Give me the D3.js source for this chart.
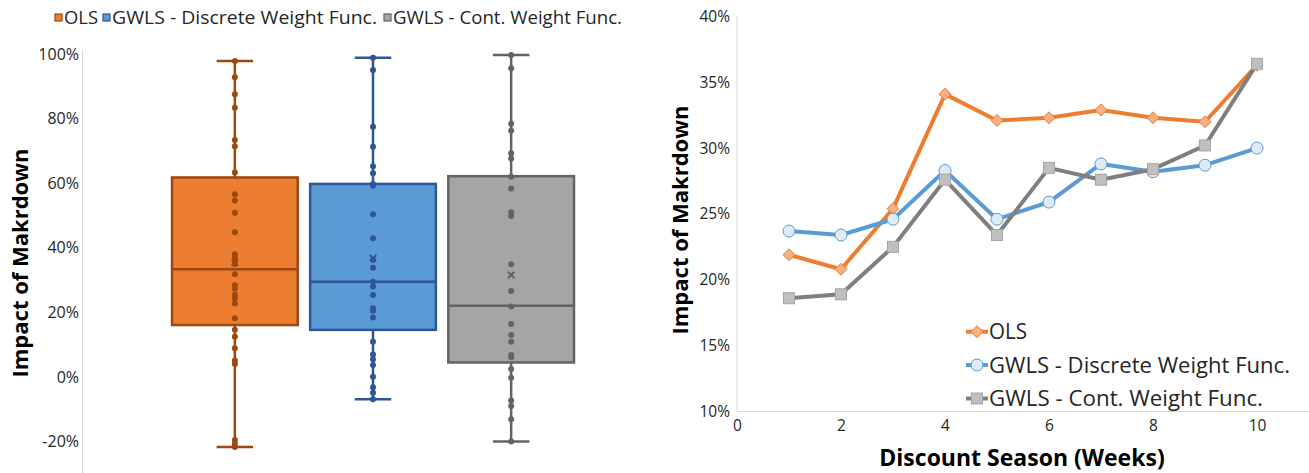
<!DOCTYPE html>
<html><head><meta charset="utf-8">
<script src="https://cdn.jsdelivr.net/npm/d3@7"></script>
<style>
html,body{margin:0;padding:0;background:#fff;}
svg{display:block;font-family:"Open Sans",sans-serif;}
</style></head>
<body>
<svg id="c" width="1309" height="473"></svg>
<script>
// ---------------- DATA ----------------
const seriesNames = ["OLS", "GWLS - Discrete Weight Func.", "GWLS - Cont. Weight Func."];

// Box plot stats (percent)
const boxMin    = [-21.7, -6.9, -20.0];
const boxQ1     = [16.1, 14.6, 4.5];
const boxMedian = [33.4, 29.5, 22.1];
const boxQ3     = [61.8, 59.8, 62.2];
const boxMax    = [97.9, 98.9, 99.7];
const boxMean   = [35.5, 36.8, 31.6];

// Individual observations (percent)
const olsPoints = [97.9, 92.8, 87.6, 83.4, 73.4, 71.5, 63.3, 56.6, 54.7, 50.9, 44.8, 38.0, 36.8, 35.9, 35.0,
  31.8, 28.4, 27.3, 25.5, 24.4, 22.8, 18.2, 14.6, 12.5, 8.9, 5.1, 4.0, -19.5, -20.7, -21.7];
const discPoints = [98.9, 95.1, 77.5, 71.3, 65.3, 63.1, 59.8, 59.2, 50.4, 43.0, 36.2, 33.8, 29.5, 28.0, 25.4,
  21.3, 20.5, 18.4, 10.9, 7.0, 5.5, 3.7, 0.1, -3.2, -4.9, -6.9];
const contPoints = [99.7, 95.6, 78.4, 76.3, 69.3, 67.7, 62.0, 58.4, 51.0, 49.9, 34.9, 26.6, 21.8, 16.4, 13.0,
  10.9, 6.8, 6.1, 2.5, -0.2, -7.3, -9.0, -13.1, -20.0];

const boxTicks = [-20, 0, 20, 40, 60, 80, 100];

// Line chart: Discount season (weeks) vs impact (percent)
const weeks = [1, 2, 3, 4, 5, 6, 7, 8, 9, 10];
const olsLine  = [21.9, 20.8, 25.4, 34.1, 32.1, 32.3, 32.9, 32.3, 32.0, 36.3];
const discLine = [23.7, 23.4, 24.6, 28.3, 24.6, 25.9, 28.8, 28.2, 28.7, 30.0];
const contLine = [18.6, 18.9, 22.5, 27.6, 23.4, 28.5, 27.6, 28.4, 30.2, 36.4];
const lineXTicks = [0, 2, 4, 6, 8, 10];
const lineYTicks = [10, 15, 20, 25, 30, 35, 40];

// ---------------- STYLE ----------------
const fills   = ["#ED7D31", "#5B9BD5", "#A5A5A5"];
const strokes = ["#9E480E", "#2F5597", "#636363"];
const lineCols = ["#ED7D31", "#5B9BD5", "#7F7F7F"];
const markFill = ["#F4B183", "#DEEBF7", "#BFBFBF"];
const markStroke = ["#ED7D31", "#5B9BD5", "#A5A5A5"];
const textCol = "#262626";
const axisCol = "#D9D9D9";

const svg = d3.select("#c");

// ================= LEFT: BOX PLOT =================
const yB = d3.scaleLinear().domain([-20, 100]).range([441.6, 54.1]);
const xB = d3.scaleBand().domain(seriesNames).range([172, 574]).paddingInner(0.09).paddingOuter(0);
const allPoints = [olsPoints, discPoints, contPoints];

svg.append("line").attr("x1", 82.5).attr("x2", 82.5).attr("y1", 50).attr("y2", 473)
  .attr("stroke", axisCol).attr("stroke-width", 1);

const yAxB = d3.axisLeft(yB).tickValues(boxTicks).tickSize(0).tickPadding(0).tickFormat(d => d + "%");
const gyB = svg.append("g").attr("transform", "translate(79,0)").call(yAxB);
gyB.select(".domain").remove();
gyB.selectAll("text").attr("fill", textCol).style("font-size", "16px").style("font-family", "Open Sans");

svg.append("text").attr("transform", "translate(28,263) rotate(-90)")
  .attr("text-anchor", "middle").attr("fill", "#000")
  .style("font-size", "22px").style("font-weight", "bold").text("Impact of Makrdown");

seriesNames.forEach((s, i) => {
  const g = svg.append("g");
  const x0 = xB(s), w = xB.bandwidth(), cx = x0 + w / 2, capW = w * 0.29;
  g.append("line").attr("x1", cx).attr("x2", cx).attr("y1", yB(boxMax[i])).attr("y2", yB(boxMin[i]))
    .attr("stroke", strokes[i]).attr("stroke-width", 2.5);
  g.append("line").attr("x1", cx - capW / 2).attr("x2", cx + capW / 2).attr("y1", yB(boxMax[i])).attr("y2", yB(boxMax[i]))
    .attr("stroke", strokes[i]).attr("stroke-width", 2.5);
  g.append("line").attr("x1", cx - capW / 2).attr("x2", cx + capW / 2).attr("y1", yB(boxMin[i])).attr("y2", yB(boxMin[i]))
    .attr("stroke", strokes[i]).attr("stroke-width", 2.5);
  g.append("rect").attr("x", x0).attr("width", w).attr("y", yB(boxQ3[i])).attr("height", yB(boxQ1[i]) - yB(boxQ3[i]))
    .attr("fill", fills[i]).attr("stroke", strokes[i]).attr("stroke-width", 2.5);
  g.append("line").attr("x1", x0).attr("x2", x0 + w).attr("y1", yB(boxMedian[i])).attr("y2", yB(boxMedian[i]))
    .attr("stroke", strokes[i]).attr("stroke-width", 2.5);
  g.selectAll("circle").data(allPoints[i]).join("circle")
    .attr("cx", cx).attr("cy", d => yB(d)).attr("r", 3).attr("fill", strokes[i]);
  const my = yB(boxMean[i]), m = 3.2;
  g.append("path").attr("d", `M${cx - m},${my - m}L${cx + m},${my + m}M${cx - m},${my + m}L${cx + m},${my - m}`)
    .attr("stroke", strokes[i]).attr("stroke-width", 2);
});

// top legend
const legTop = svg.append("g");
const legX = [55, 103, 384];
const legTopLen = [34, 265, 229];
seriesNames.forEach((s, i) => {
  legTop.append("rect").attr("x", legX[i]).attr("y", 14).attr("width", 7).attr("height", 7)
    .attr("fill", fills[i]).attr("stroke", strokes[i]).attr("stroke-width", 1.2);
  legTop.append("text").attr("x", legX[i] + 9).attr("y", 24).attr("fill", textCol)
    .attr("textLength", legTopLen[i]).attr("lengthAdjust", "spacingAndGlyphs")
    .style("font-size", "18px").text(s);
});

// ================= RIGHT: LINE CHART =================
const xL = d3.scaleLinear().domain([0, 12]).range([737, 1361]);
const yL = d3.scaleLinear().domain([10, 40]).range([411.5, 16.4]);

svg.append("line").attr("x1", xL(0)).attr("x2", 1309).attr("y1", yL(10)).attr("y2", yL(10))
  .attr("stroke", axisCol);
svg.append("line").attr("x1", xL(0)).attr("x2", xL(0)).attr("y1", yL(40)).attr("y2", yL(10))
  .attr("stroke", axisCol);

const gyL = svg.append("g").attr("transform", `translate(${xL(0) - 7},0)`)
  .call(d3.axisLeft(yL).tickValues(lineYTicks).tickSize(0).tickPadding(0).tickFormat(d => d + "%"));
gyL.select(".domain").remove();
gyL.selectAll("text").attr("fill", textCol).style("font-size", "15.5px").style("font-family", "Open Sans");

const gxL = svg.append("g").attr("transform", `translate(0,${yL(10) + 8})`)
  .call(d3.axisBottom(xL).tickValues(lineXTicks).tickSize(0).tickPadding(0));
gxL.select(".domain").remove();
gxL.selectAll("text").attr("fill", textCol).style("font-size", "15.5px").style("font-family", "Open Sans");

svg.append("text").attr("x", 1022).attr("y", 466).attr("text-anchor", "middle").attr("fill", "#000")
  .style("font-size", "23px").style("font-weight", "bold").text("Discount Season (Weeks)");
svg.append("text").attr("transform", "translate(688,220) rotate(-90)").attr("text-anchor", "middle").attr("fill", "#000")
  .style("font-size", "22px").style("font-weight", "bold").text("Impact of Makrdown");

const lineData = [olsLine, discLine, contLine];
const lineGen = d3.line().x((d, j) => xL(weeks[j])).y(d => yL(d));

function marker(g, type, i, x, y) {
  if (type === 0) {
    const s = 6;
    g.append("path").attr("d", `M${x},${y - s}L${x + s},${y}L${x},${y + s}L${x - s},${y}Z`)
      .attr("fill", markFill[i]).attr("stroke", markStroke[i]).attr("stroke-width", 1);
  } else if (type === 1) {
    g.append("circle").attr("cx", x).attr("cy", y).attr("r", 6)
      .attr("fill", markFill[i]).attr("stroke", markStroke[i]).attr("stroke-width", 1);
  } else {
    const s = 5.5;
    g.append("rect").attr("x", x - s).attr("y", y - s).attr("width", 2 * s).attr("height", 2 * s)
      .attr("fill", markFill[i]).attr("stroke", markStroke[i]).attr("stroke-width", 1);
  }
}

lineData.forEach((arr, i) => {
  const g = svg.append("g");
  g.append("path").datum(arr).attr("d", lineGen).attr("fill", "none")
    .attr("stroke", lineCols[i]).attr("stroke-width", 4).attr("stroke-linejoin", "round");
  arr.forEach((d, j) => marker(g, i, i, xL(weeks[j]), yL(d)));
});

// right legend
const legR = svg.append("g");
const legRY = [331.7, 365, 398.5];
const legRLen = [38, 301, 274];
seriesNames.forEach((s, i) => {
  legR.append("line").attr("x1", 966).attr("x2", 988).attr("y1", legRY[i]).attr("y2", legRY[i])
    .attr("stroke", lineCols[i]).attr("stroke-width", 4);
  marker(legR, i, i, 977, legRY[i]);
  legR.append("text").attr("x", 989).attr("y", legRY[i] + 7.5).attr("fill", textCol)
    .attr("textLength", legRLen[i]).attr("lengthAdjust", "spacingAndGlyphs")
    .style("font-size", "21px").text(s);
});
</script>
</body></html>
